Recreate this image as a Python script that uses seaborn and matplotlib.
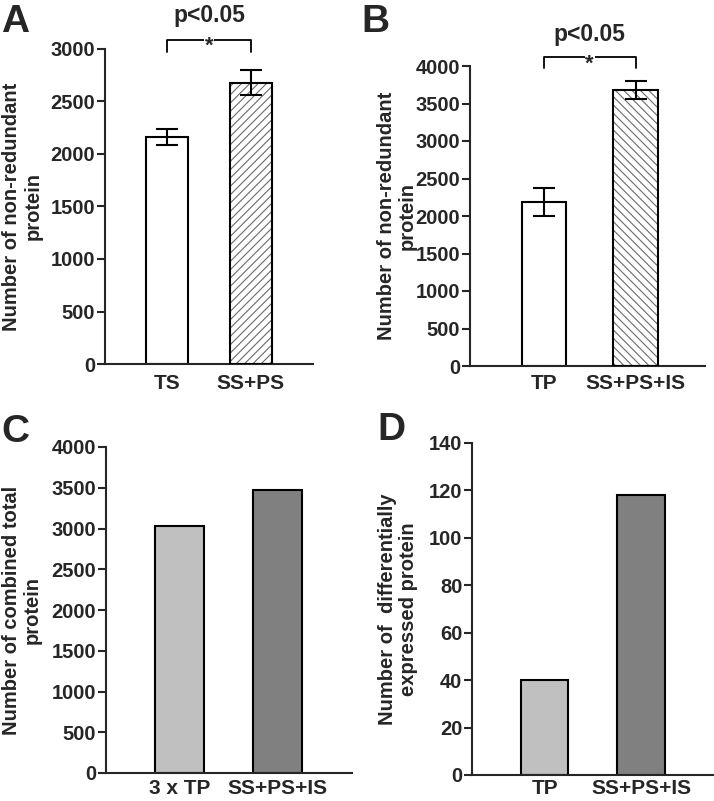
import pandas as pd
import seaborn as sns
import matplotlib.pyplot as plt
from matplotlib.patches import Rectangle

# ==========================================
# DATA
# ==========================================
a_groups = ["TS", "SS+PS"]
a_means = [2160, 2680]
a_err = [78, 118]

b_groups = ["TP", "SS+PS+IS"]
b_means = [2190, 3683]
b_err = [190, 120]

c_groups = ["3 x TP", "SS+PS+IS"]
c_counts = [3030, 3470]

d_groups = ["TP", "SS+PS+IS"]
d_counts = [40, 118]

a_yticks = [0, 500, 1000, 1500, 2000, 2500, 3000]
b_yticks = [0, 500, 1000, 1500, 2000, 2500, 3000, 3500, 4000]
c_yticks = [0, 500, 1000, 1500, 2000, 2500, 3000, 3500, 4000]
d_yticks = [0, 20, 40, 60, 80, 100, 120, 140]

label_nonred = "Number of non-redundant\nprotein"
label_combined = "Number of combined total\nprotein"
label_diff = "Number of  differentially\nexpressed protein"
sig_text = "p<0.05"

# ==========================================
# STYLE
# ==========================================
sns.set_style("ticks")
plt.rcParams['font.family'] = ['Liberation Sans', 'DejaVu Sans']
plt.rcParams['font.weight'] = 'bold'
plt.rcParams['axes.labelweight'] = 'bold'
plt.rcParams['hatch.linewidth'] = 0.8

W, H = 714, 801
fig = plt.figure(figsize=(W / 100, H / 100), dpi=100)


def box(left, top, right, bottom):
    # pixel box -> figure fraction rect
    return [left / W, 1 - bottom / H, (right - left) / W, (bottom - top) / H]


def draw_panel(ax, groups, values, colors, width, yticks, xlim, ylabel, label_x,
               xpad=7, err=None, hatch=None):
    df = pd.DataFrame({"group": groups, "value": values})
    sns.barplot(data=df, x="group", y="value", hue="group", palette=colors,
                legend=False, width=width, edgecolor="black", linewidth=1.5,
                saturation=1, ax=ax, zorder=2)
    if hatch is not None:
        p = ax.patches[1]
        p.set_hatch(hatch)
        p.set_edgecolor("#6a6a6a")
        p.set_linewidth(0)
        ax.add_patch(Rectangle(p.get_xy(), p.get_width(), p.get_height(),
                               fill=False, edgecolor="black", linewidth=1.5, zorder=3))
    if err is not None:
        ax.errorbar(range(len(groups)), values, yerr=err, fmt="none", ecolor="black",
                    elinewidth=1.5, capsize=8, capthick=1.5, zorder=5)

    ax.set_xlim(*xlim)
    ax.set_ylim(yticks[0], yticks[-1])
    ax.set_yticks(yticks)
    ax.set_xlabel("")
    ax.set_ylabel(ylabel, fontsize=14.5, linespacing=1.15)
    ax.yaxis.set_label_coords(label_x, 0.5)
    ax.tick_params(axis="y", length=6, width=1.5, pad=1, labelsize=14.5)
    ax.tick_params(axis="x", length=0, pad=xpad, labelsize=15)
    for s in ["top", "right"]:
        ax.spines[s].set_visible(False)
    for s in ["left", "bottom"]:
        ax.spines[s].set_linewidth(1.5)


def add_bracket(ax, ymax):
    y_line = ymax * 1.03
    y_leg = ymax * 0.992
    ax.plot([0, 0, 1, 1], [y_leg, y_line, y_line, y_leg], color="black",
            lw=1.3, clip_on=False)
    ax.annotate("*", (0.5, y_line), xytext=(0, -9), textcoords="offset points",
                ha="center", va="baseline", fontsize=16,
                bbox=dict(facecolor="white", edgecolor="none", pad=0.5),
                annotation_clip=False)
    ax.text(0.5, ymax * 1.105, sig_text, ha="center", va="center", fontsize=16.5)


# ==========================================
# PANELS
# ==========================================
ax_a = fig.add_axes(box(105, 49, 313, 364))
draw_panel(ax_a, a_groups, a_means, ["white", "white"], 0.5, a_yticks,
           (-0.74, 1.74), label_nonred, -0.30, xpad=7, err=a_err, hatch="////")
add_bracket(ax_a, a_yticks[-1])

ax_b = fig.add_axes(box(470, 66, 705, 366))
draw_panel(ax_b, b_groups, b_means, ["white", "white"], 0.49, b_yticks,
           (-0.81, 1.76), label_nonred, -0.225, xpad=5.5, err=b_err, hatch="\\\\\\\\")
add_bracket(ax_b, b_yticks[-1])

ax_c = fig.add_axes(box(106, 447, 352, 773))
draw_panel(ax_c, c_groups, c_counts, ["#c0c0c0", "#808080"], 0.5, c_yticks,
           (-0.754, 1.766), label_combined, -0.26, xpad=4.5)

ax_d = fig.add_axes(box(472, 443, 714, 775))
draw_panel(ax_d, d_groups, d_counts, ["#c0c0c0", "#808080"], 0.49, d_yticks,
           (-0.753, 1.757), label_diff, -0.223, xpad=3)

# panel letters
for letter, x, y in [("A", 1, 32), ("B", 361, 32), ("C", 1, 442), ("D", 377, 440)]:
    fig.text(x / W, 1 - y / H, letter, fontsize=28, fontweight="bold",
             ha="left", va="baseline")

fig.savefig("out.png", dpi=100)
